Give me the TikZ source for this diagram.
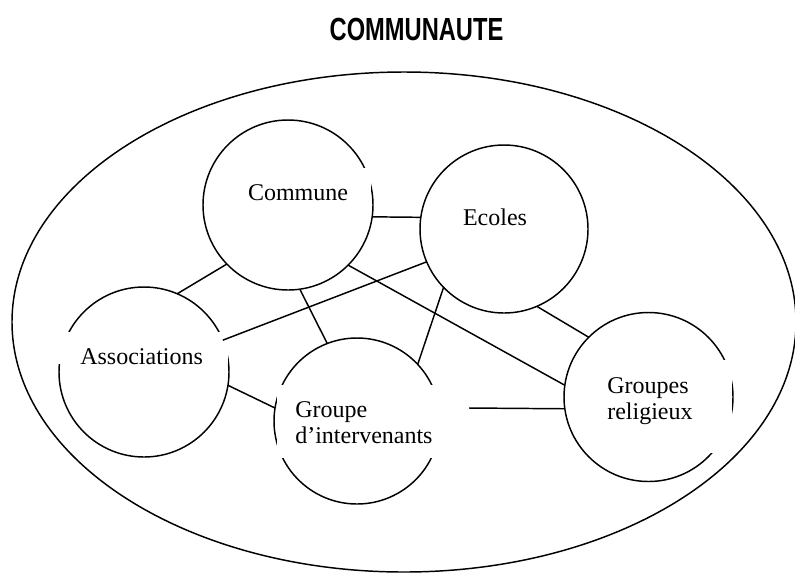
\documentclass[tikz,border=0pt]{standalone}
\usepackage{fontspec}
\setmainfont{Liberation Serif}
\newfontfamily\titlefont{Liberation Sans}
\usepackage{graphicx}
\usetikzlibrary{positioning}
\tikzset{
  grp/.style={circle, draw=black, line width=1.1pt, inner sep=0pt, outer sep=0pt},
  lbl/.style={rectangle, fill=white, inner ysep=0pt, font=\fontsize{18}{19.5}\selectfont},
  lnk/.style={draw=black, line width=1.1pt},
  ttl/.style={font=\titlefont\bfseries\fontsize{24}{28}\selectfont},
}
\begin{document}
\begin{tikzpicture}[x=0.75pt, y=-0.75pt]
  \useasboundingbox (0,0) rectangle (795,572);
  % title and outer ellipse
  \node[ttl, anchor=base] (titre) at (416.5,40) {\scalebox{0.74}[1]{COMMUNAUTE}};
  \draw[line width=1.1pt] (404,322) ellipse [x radius=294pt, y radius=187.5pt];
  % circles
  \node[grp, minimum size=127.5pt] (commune) at (288,205) {};
  \node[grp, minimum size=126pt] (ecoles) at (504,229) {};
  \node[grp, minimum size=127.5pt] (assoc) at (144,372) {};
  \node[grp, minimum size=124.5pt] (groupe) at (357,421) {};
  \node[grp, minimum size=126.75pt] (religieux) at (648.5,397) {};
  % labels
  \node[lbl, anchor=base, align=center, text width=109.5pt, inner xsep=0pt, text height=24pt, text depth=11.25pt] (communeT) at (298,200) {Commune};
  \node[lbl, anchor=base, align=center, text width=75pt, inner xsep=0pt, text height=24pt, text depth=11.25pt] (ecolesT) at (495,225) {Ecoles};
  \node[lbl, anchor=base west, align=left, text width=94.5pt, inner xsep=16.5pt, text height=24pt, text depth=0pt] (assocT) at (58,364) {Associations};
  \node[lbl, anchor=base west, align=left, text width=102.75pt, inner xsep=13.5pt, text height=24pt, text depth=30.75pt] (groupeT) at (277,417) {Groupe\\d’intervenants};
  \node[lbl, anchor=base west, align=left, text width=81pt, inner xsep=12.75pt, text height=24.75pt, text depth=45pt] (religieuxT) at (590,393) {Groupes\\religieux};
  % links
  \draw[lnk] (commune.352) -- (ecoles.172);
  \draw[lnk] (commune.224.5) -- (assoc.67.5);
  \draw[lnk] (commune.278) -- (groupe.111);
  \draw[lnk] (ecoles.203) -- (assoc.22);
  \draw[lnk] (commune.315) -- (religieux.172);
  \draw[lnk] (ecoles.224) -- (groupe.43);
  \draw[lnk] (ecoles.293) -- (religieux.135);
  \draw[lnk] (assoc.351) -- (groupe.171);
  \coordinate (gfree) at (469,408);
  \draw[lnk] (gfree) -- (religieux.188);
\end{tikzpicture}
\end{document}
